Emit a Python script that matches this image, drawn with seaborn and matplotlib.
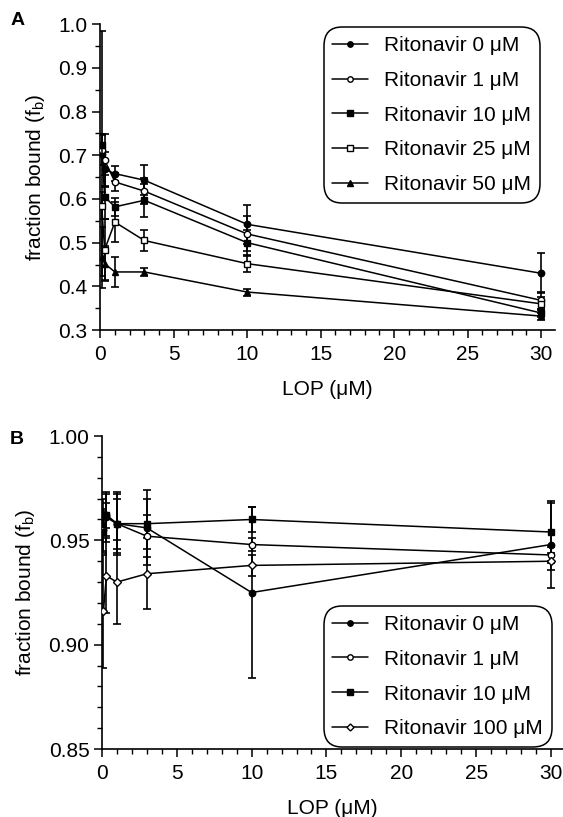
import numpy as np
import matplotlib
matplotlib.use('Agg')
import matplotlib.pyplot as plt
from matplotlib.ticker import MultipleLocator, FormatStrFormatter
import seaborn as sns
from pandas import DataFrame

sns.set_style('ticks')
plt.rcParams['font.family'] = ['Liberation Sans', 'DejaVu Sans']
plt.rcParams['mathtext.fontset'] = 'custom'
plt.rcParams['mathtext.rm'] = 'Liberation Sans'
for k in ['text.color', 'axes.labelcolor', 'xtick.color', 'ytick.color']:
    plt.rcParams[k] = 'black'

lop = [0.1, 0.3, 1, 3, 10, 30]  # LOP (uM)

# panel A
labels_a = ['Ritonavir 0 \u03bcM', 'Ritonavir 1 \u03bcM', 'Ritonavir 10 \u03bcM',
            'Ritonavir 25 \u03bcM', 'Ritonavir 50 \u03bcM']
fb_a = [[0.704, 0.668, 0.658, 0.643, 0.542, 0.430],
        [0.712, 0.689, 0.639, 0.618, 0.520, 0.368],
        [0.723, 0.605, 0.582, 0.597, 0.500, 0.339],
        [0.585, 0.484, 0.547, 0.505, 0.452, 0.360],
        [0.467, 0.452, 0.433, 0.433, 0.387, 0.332]]
err_a = [[0.28, 0.04, 0.018, 0.035, 0.045, 0.046],
         [0.035, 0.06, 0.02, 0.03, 0.04, 0.02],
         [0.025, 0.05, 0.02, 0.038, 0.03, 0.01],
         [0.03, 0.07, 0.045, 0.025, 0.02, 0.015],
         [0.07, 0.04, 0.035, 0.01, 0.008, 0.008]]
mk_a = [('o', 'black'), ('o', 'white'), ('s', 'black'), ('s', 'white'), ('^', 'black')]

# panel B
labels_b = ['Ritonavir 0 \u03bcM', 'Ritonavir 1 \u03bcM', 'Ritonavir 10 \u03bcM',
            'Ritonavir 100 \u03bcM']
fb_b = [[0.962, 0.961, 0.958, 0.956, 0.925, 0.948],
        [0.955, 0.962, 0.958, 0.952, 0.948, 0.943],
        [0.954, 0.962, 0.958, 0.958, 0.960, 0.954],
        [0.916, 0.933, 0.930, 0.934, 0.938, 0.940]]
err_b = [[0.008, 0.012, 0.012, 0.018, 0.041, 0.021],
         [0.01, 0.01, 0.015, 0.01, 0.003, 0.004],
         [0.01, 0.006, 0.014, 0.012, 0.006, 0.014],
         [0.027, 0.018, 0.02, 0.017, 0.005, 0.004]]
mk_b = [('o', 'black'), ('o', 'white'), ('s', 'black'), ('D', 'white')]


def panel(ax, labels, fb, err, mk):
    for lab, y, e, (m, fc) in zip(labels, fb, err, mk):
        d = DataFrame({'x': lop, 'y': y})
        ax.errorbar(d['x'], d['y'], yerr=e, fmt='none', ecolor='black',
                    elinewidth=1.2, capsize=3, capthick=1.2, zorder=2)
        sns.lineplot(data=d, x='x', y='y', ax=ax, color='black', lw=1.1,
                     marker=m, markersize=4.6 if m != 'D' else 4.2,
                     markerfacecolor=fc, markeredgecolor='black',
                     markeredgewidth=1, label=lab, zorder=3)
    sns.despine(ax=ax)
    for s in ['left', 'bottom']:
        ax.spines[s].set_linewidth(1.2)
        ax.spines[s].set_color('black')
    ax.xaxis.set_major_locator(MultipleLocator(5))
    ax.xaxis.set_minor_locator(MultipleLocator(1))
    ax.tick_params(which='major', length=6, width=1.1, labelsize=15,
                   direction='out', pad=3)
    ax.tick_params(which='minor', length=3.5, width=1.0, direction='out')
    ax.tick_params(axis='x', which='major', pad=5)
    ax.set_xlabel('LOP (\u03bcM)', fontsize=15, labelpad=11)
    ax.set_ylabel('fraction bound (f$_\\mathrm{b}$)', fontsize=15, labelpad=8)


def legend(ax, anchor, loc):
    leg = ax.legend(loc=loc, bbox_to_anchor=anchor, fontsize=15,
                    frameon=True, fancybox=True, edgecolor='black', framealpha=1,
                    handlelength=1.7, handletextpad=0.8, labelspacing=0.76,
                    borderpad=0.42, borderaxespad=0, markerscale=0.85)
    leg.get_frame().set_linewidth(1.1)
    leg.get_frame().set_boxstyle('round', pad=0.0, rounding_size=0.9)
    return leg


fig = plt.figure(figsize=(5.63, 8.17), dpi=100)
axA = fig.add_axes([0.178, 0.596, 0.808, 0.3744])
axB = fig.add_axes([0.181, 0.0832, 0.819, 0.3831])

panel(axA, labels_a, fb_a, err_a, mk_a)
axA.set_xlim(0, 30.95)
axA.set_ylim(0.3, 1.0)
axA.yaxis.set_major_locator(MultipleLocator(0.1))
axA.yaxis.set_minor_locator(MultipleLocator(0.05))
axA.yaxis.set_major_formatter(FormatStrFormatter('%.1f'))
legend(axA, (0.967, 0.99), 'upper right')

panel(axB, labels_b, fb_b, err_b, mk_b)
axB.set_xlim(0, 30.8)
axB.set_ylim(0.85, 1.0)
axB.yaxis.set_major_locator(MultipleLocator(0.05))
axB.yaxis.set_minor_locator(MultipleLocator(0.01))
axB.yaxis.set_major_formatter(FormatStrFormatter('%.2f'))
legend(axB, (0.976, 0.006), 'lower right')

fig.text(0.018, 0.975, 'A', fontsize=14, fontweight='bold', va='center')
fig.text(0.018, 0.462, 'B', fontsize=14, fontweight='bold', va='center')

fig.savefig('out.png', dpi=100)
